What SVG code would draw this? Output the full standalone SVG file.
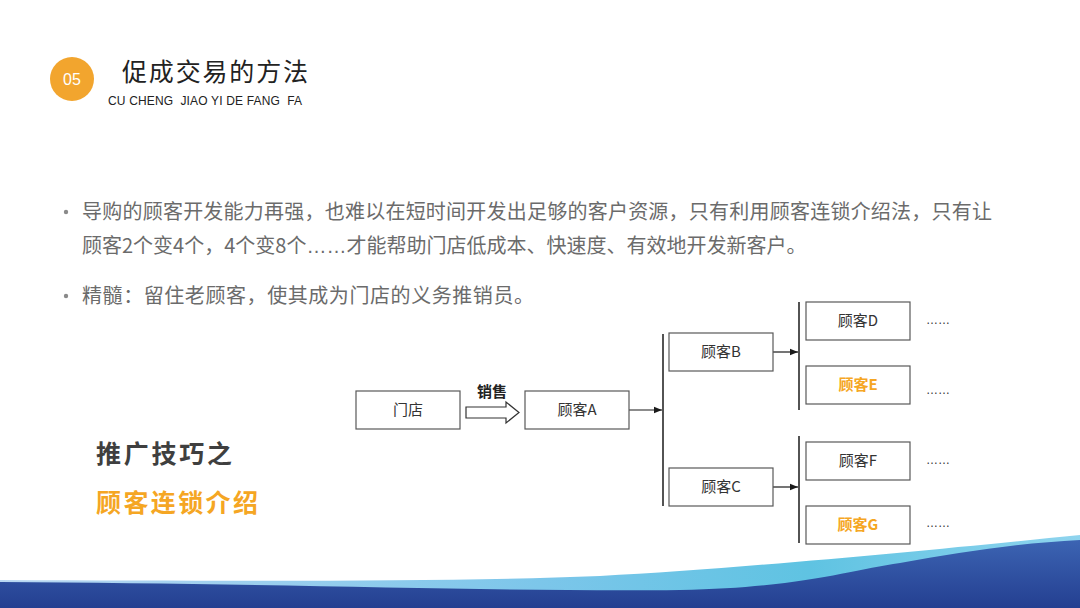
<svg xmlns="http://www.w3.org/2000/svg" width="1080" height="608" viewBox="0 0 1080 608">
<style>
.cjk{font-family:"Noto Sans CJK SC","Liberation Sans",sans-serif;}
.box{fill:#ffffff;stroke:#595959;stroke-width:1.2;}
.bt{font-family:"Noto Sans CJK SC","Liberation Sans",sans-serif;font-size:15px;fill:#333333;text-anchor:middle;}
.bto{font-family:"Noto Sans CJK SC","Liberation Sans",sans-serif;font-size:15px;fill:#F5A623;font-weight:bold;text-anchor:middle;}
.body{font-family:"Noto Sans CJK SC","Liberation Sans",sans-serif;font-size:20px;fill:#6b6b6b;}
.ell{font-family:"Liberation Sans",sans-serif;}
.ln{stroke:#1a1a1a;stroke-width:1.2;fill:none;}
.vl{stroke:#1a1a1a;stroke-width:1.5;fill:none;}
.dots{font-family:"Liberation Sans",sans-serif;font-size:12px;fill:#333333;}
</style>
<defs>
<marker id="ah" viewBox="0 0 10 10" refX="10" refY="5" markerWidth="8" markerHeight="8" markerUnits="userSpaceOnUse" orient="auto">
<path d="M0,1 L10,5 L0,9 Z" fill="#1a1a1a"/>
</marker>
<linearGradient id="gdark" x1="0" y1="0" x2="0" y2="1">
<stop offset="0" stop-color="#3c64b3"/>
<stop offset="1" stop-color="#243f91"/>
</linearGradient>
<linearGradient id="gcyan" x1="0" y1="0" x2="1" y2="0">
<stop offset="0" stop-color="#b9d7f2"/>
<stop offset="0.5" stop-color="#7cc6ea"/>
<stop offset="0.75" stop-color="#5fc3e2"/>
<stop offset="1" stop-color="#8fd4ee"/>
</linearGradient>
</defs>
<rect x="0" y="0" width="1080" height="608" fill="#ffffff"/>

<!-- bottom wave -->
<g id="wave">
<path d="M0,580 C250,581 450,582 600,576 C750,568 950,548 1080,535 L1080,608 L0,608 Z" fill="url(#gcyan)"/>
<path d="M0,582 C250,583 500,592 680,590 C800,588 850,570 900,563 C960,552 1020,543 1080,540 L1080,608 L0,608 Z" fill="url(#gdark)"/>
</g>

<!-- header -->
<g id="header">
<circle cx="72" cy="79" r="22" fill="#F2A52E"/>
<text x="72" y="85" font-family="Liberation Sans, sans-serif" font-size="16" fill="#ffffff" text-anchor="middle">05</text>
<text x="122" y="81" class="cjk" font-size="25" fill="#222222" textLength="186" lengthAdjust="spacing">促成交易的方法</text>
<text x="108" y="105" font-family="Liberation Sans, sans-serif" font-size="12" fill="#222222" textLength="194" lengthAdjust="spacing" xml:space="preserve">CU CHENG  JIAO YI DE FANG  FA</text>
</g>

<!-- bullets -->
<g id="bullets">
<circle cx="66" cy="212" r="2.2" fill="#8a8a8a"/>
<text x="82" y="219" class="body" textLength="910" lengthAdjust="spacing">导购的顾客开发能力再强，也难以在短时间开发出足够的客户资源，只有利用顾客连锁介绍法，只有让</text>
<text x="82" y="253" class="body">顾客2个变4个，4个变8个<tspan class="ell">……</tspan>才能帮助门店低成本、快速度、有效地开发新客户。</text>
<circle cx="66" cy="296" r="2.2" fill="#8a8a8a"/>
<text x="82" y="303" class="body" textLength="452" lengthAdjust="spacing">精髓：留住老顾客，使其成为门店的义务推销员。</text>
</g>

<!-- side titles -->
<g id="side-title">
<text x="96" y="463" class="cjk" font-size="25" font-weight="bold" fill="#3f3f3f" textLength="136" lengthAdjust="spacing">推广技巧之</text>
<text x="96" y="512" class="cjk" font-size="25" font-weight="bold" fill="#F5A623" textLength="162" lengthAdjust="spacing">顾客连锁介绍</text>
</g>

<!-- connectors -->
<g id="connectors">
<polygon points="466,407 506,407 506,402 519,412.5 506,423 506,418 466,418" fill="#ffffff" stroke="#333333" stroke-width="1.2"/>
<text x="492" y="397" class="cjk" font-size="15" font-weight="bold" fill="#222222" text-anchor="middle">销售</text>
<line x1="629" y1="410" x2="662" y2="410" class="ln" marker-end="url(#ah)"/>
<line x1="663" y1="334" x2="663" y2="506" class="vl"/>
<line x1="773" y1="352" x2="798" y2="352" class="ln" marker-end="url(#ah)"/>
<line x1="799" y1="302" x2="799" y2="410" class="vl"/>
<line x1="773" y1="487" x2="798" y2="487" class="ln" marker-end="url(#ah)"/>
<line x1="799" y1="436" x2="799" y2="543" class="vl"/>
</g>

<!-- nodes -->
<g id="node-store"><rect x="356" y="391" width="104" height="38" class="box"/><text x="408" y="415" class="bt">门店</text></g>
<g id="node-A"><rect x="525" y="391" width="104" height="38" class="box"/><text x="577" y="415" class="bt">顾客A</text></g>
<g id="node-B"><rect x="669" y="333" width="104" height="38" class="box"/><text x="721" y="357" class="bt">顾客B</text></g>
<g id="node-C"><rect x="669" y="468" width="104" height="38" class="box"/><text x="721" y="492" class="bt">顾客C</text></g>
<g id="node-D"><rect x="806" y="302" width="104" height="38" class="box"/><text x="858" y="326" class="bt">顾客D</text><text x="926" y="324" class="dots">……</text></g>
<g id="node-E"><rect x="806" y="366" width="104" height="38" class="box"/><text x="858" y="390" class="bto">顾客E</text><text x="926" y="394" class="dots">……</text></g>
<g id="node-F"><rect x="806" y="442" width="104" height="38" class="box"/><text x="858" y="466" class="bt">顾客F</text><text x="926" y="464" class="dots">……</text></g>
<g id="node-G"><rect x="806" y="506" width="104" height="38" class="box"/><text x="858" y="530" class="bto">顾客G</text><text x="926" y="527" class="dots">……</text></g>
</svg>
